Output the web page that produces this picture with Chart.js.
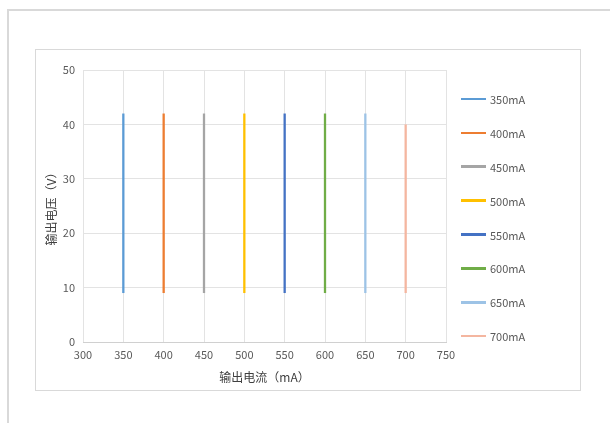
<!DOCTYPE html>
<html>
<head>
<meta charset="utf-8">
<script src="https://cdn.jsdelivr.net/npm/chart.js@4"></script>
<style>
  html, body { margin: 0; padding: 0; background: #fff; overflow: hidden; }
  body { width: 610px; height: 423px; position: relative;
         font-family: "Noto Sans CJK SC", "Noto Sans", sans-serif; }
  #outer { position: absolute; left: 7px; top: 9px; width: 603px; height: 414px;
           border-left: 2px solid #d9d9d9; border-top: 2px solid #d9d9d9; box-sizing: border-box; }
  #box { position: absolute; left: 35px; top: 49px; width: 546px; height: 342px;
         border: 1px solid #d9d9d9; box-sizing: border-box; background: #fff; }
  #cwrap { position: absolute; left: 0; top: 0; width: 544px; height: 340px; }
  #legend { position: absolute; left: 425px; top: 32px; }
  .item { height: 33.9px; display: flex; align-items: center; font-size: 11px; color: #595959; }
  .sw { width: 25px; height: 2.5px; margin-right: 4px; }
</style>
</head>
<body>
<div id="outer"></div>
<div id="box">
  <div id="cwrap"><canvas id="c"></canvas></div>
  <div id="legend"></div>
</div>
<script>
const seriesNames = ["350mA","400mA","450mA","500mA","550mA","600mA","650mA","700mA"];
const currents = [350, 400, 450, 500, 550, 600, 650, 700];
const vMin = [9, 9, 9, 9, 9, 9, 9, 9];
const vMax = [42, 42, 42, 42, 42, 42, 42, 40];
const colors = ["#5B9BD5","#ED7D31","#A5A5A5","#FFC000","#4472C4","#70AD47","#9DC3E6","#F4B6A0"];
const xTicks = [300, 350, 400, 450, 500, 550, 600, 650, 700, 750];
const yTicks = [0, 10, 20, 30, 40, 50];
const xTitle = "输出电流（mA）";
const yTitle = "输出电压（V）";

const datasets = seriesNames.map((n, i) => ({
  label: n,
  data: [{x: currents[i], y: vMin[i]}, {x: currents[i], y: vMax[i]}],
  borderColor: colors[i],
  backgroundColor: colors[i],
  borderWidth: 2.3,
  pointRadius: 0,
  showLine: true
}));

const font = { family: '"Noto Sans CJK SC", "Noto Sans", sans-serif' };

new Chart(document.getElementById('c'), {
  type: 'scatter',
  data: { datasets },
  options: {
    responsive: true,
    maintainAspectRatio: false,
    animation: false,
    layout: { padding: { left: 6, top: 20, right: 134, bottom: 0 } },
    plugins: { legend: { display: false }, tooltip: { enabled: false } },
    scales: {
      x: {
        type: 'linear', min: xTicks[0], max: xTicks[xTicks.length - 1],
        afterBuildTicks: s => { s.ticks = xTicks.map(v => ({ value: v })); },
        afterFit: s => { s.height = 48; },
        grid: { color: '#e3e3e3', drawTicks: false, lineWidth: 1 },
        border: { display: true, color: '#d0d0d0' },
        ticks: { color: '#595959', padding: 6, font: { ...font, size: 11 }, maxRotation: 0 },
        title: { display: true, text: xTitle, color: '#404040', font: { ...font, size: 12 }, padding: { top: 4, bottom: 5 } }
      },
      y: {
        type: 'linear', min: yTicks[0], max: yTicks[yTicks.length - 1],
        afterBuildTicks: s => { s.ticks = yTicks.map(v => ({ value: v })); },
        afterFit: s => { s.width = 41; },
        grid: { color: '#e3e3e3', drawTicks: false, lineWidth: 1 },
        border: { display: false },
        ticks: { color: '#595959', padding: 8, font: { ...font, size: 11 } },
        title: { display: true, text: yTitle, color: '#404040', font: { ...font, size: 12 }, padding: { top: 2, bottom: 2 } }
      }
    }
  }
});

const lg = document.getElementById('legend');
seriesNames.forEach((n, i) => {
  const d = document.createElement('div');
  d.className = 'item';
  d.innerHTML = '<span class="sw" style="background:' + colors[i] + '"></span><span>' + n + '</span>';
  lg.appendChild(d);
});
</script>
</body>
</html>
